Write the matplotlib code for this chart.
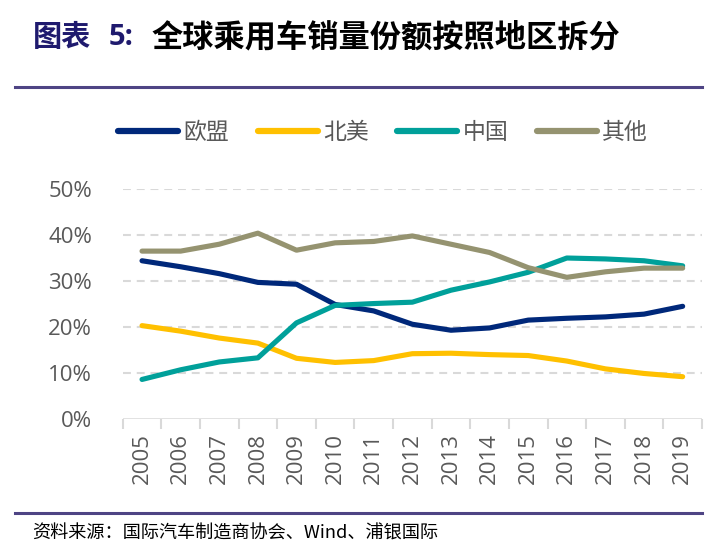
import matplotlib.pyplot as plt
from matplotlib.lines import Line2D

plt.rcParams['font.family'] = ['Noto Sans CJK SC', 'DejaVu Sans']

## 数据：全球乘用车销量份额（按地区）
years = ['2005', '2006', '2007', '2008', '2009', '2010', '2011', '2012',
         '2013', '2014', '2015', '2016', '2017', '2018', '2019']
eu = [34.4, 33.1, 31.6, 29.7, 29.3, 24.9, 23.5, 20.6, 19.3, 19.8, 21.5, 21.9, 22.2, 22.8, 24.5]
na = [20.3, 19.1, 17.6, 16.5, 13.2, 12.3, 12.7, 14.2, 14.3, 14.0, 13.8, 12.6, 10.9, 9.9, 9.2]
cn = [8.6, 10.7, 12.4, 13.3, 20.9, 24.7, 25.1, 25.4, 28.0, 29.8, 31.9, 35.0, 34.8, 34.4, 33.3]
other = [36.5, 36.5, 38.0, 40.4, 36.7, 38.3, 38.6, 39.8, 38.0, 36.2, 32.9, 30.8, 32.0, 32.8, 32.8]
series_names = ['欧盟', '北美', '中国', '其他']
yticks = [0, 10, 20, 30, 40, 50]

colors = ['#00287A', '#FFC000', '#00A09A', '#959370']
grey_txt = '#595959'
num_font = ['Open Sans', 'DejaVu Sans']

fig = plt.figure(figsize=(7.16, 5.53), dpi=100)
ax = fig.add_axes([0.1714, 0.2423, 0.809, 0.4159])

x = list(range(len(years)))
for vals, c, name in zip([eu, na, cn, other], colors, series_names):
	ax.plot(x, vals, color=c, linewidth=3.7, solid_capstyle='round', solid_joinstyle='round', label=name)

ax.set_xlim(-0.5, 14.5)
ax.set_ylim(0, 50)
ax.set_yticks(yticks)
ax.set_yticklabels([str(v) + '%' for v in yticks], fontsize=16, color=grey_txt, family=num_font)
for v in yticks[1:]:
	ax.axhline(v, color='#D9D9D9', linewidth=1.5, linestyle=(0, (3.8, 2.8)), zorder=0)
ax.axhline(0, color='#D9D9D9', linewidth=1.8, zorder=0)

ax.set_xticks(x)
ax.set_xticklabels(years, rotation=90, fontsize=16, color=grey_txt, family=num_font)
ax.tick_params(axis='x', length=0, pad=10)
ax.tick_params(axis='y', length=0, pad=22)
## 分隔刻度
ax.set_xticks([i - 0.5 for i in range(len(years) + 1)], minor=True)
ax.tick_params(axis='x', which='minor', length=7, width=1.5, color='#D9D9D9')
for s in ax.spines.values():
	s.set_visible(False)

## 图例
handles = [Line2D([0], [0], color=c, linewidth=4.5, solid_capstyle='round') for c in colors]
leg = fig.legend(handles, series_names, loc='center', bbox_to_anchor=(0.535, 0.76), ncol=4,
	frameon=False, prop={'size': 16.5, 'weight': 'light'},
	handlelength=2.62, handletextpad=0.22, columnspacing=1.25)
for t in leg.get_texts():
	t.set_color(grey_txt)

## 标题
fig.text(0.046, 0.933, '图表', fontsize=21, fontweight='bold', color='#1F1A6E', va='center')
fig.text(0.152, 0.933, '5:', fontsize=21, fontweight='bold', color='#1F1A6E', va='center', family=num_font)
fig.text(0.211, 0.933, '全球乘用车销量份额按照地区拆分', fontsize=22.5, fontweight='bold', color='black', va='center')
fig.add_artist(Line2D([0.021, 0.981], [0.8427, 0.8427], color='#4E4484', linewidth=2.2))
fig.add_artist(Line2D([0.021, 0.981], [0.0723, 0.0723], color='#4E4484', linewidth=2.2))
fig.text(0.045, 0.036, '资料来源：国际汽车制造商协会、Wind、浦银国际', fontsize=13.1, color='black', va='center')

fig.savefig('out.png', dpi=100)
